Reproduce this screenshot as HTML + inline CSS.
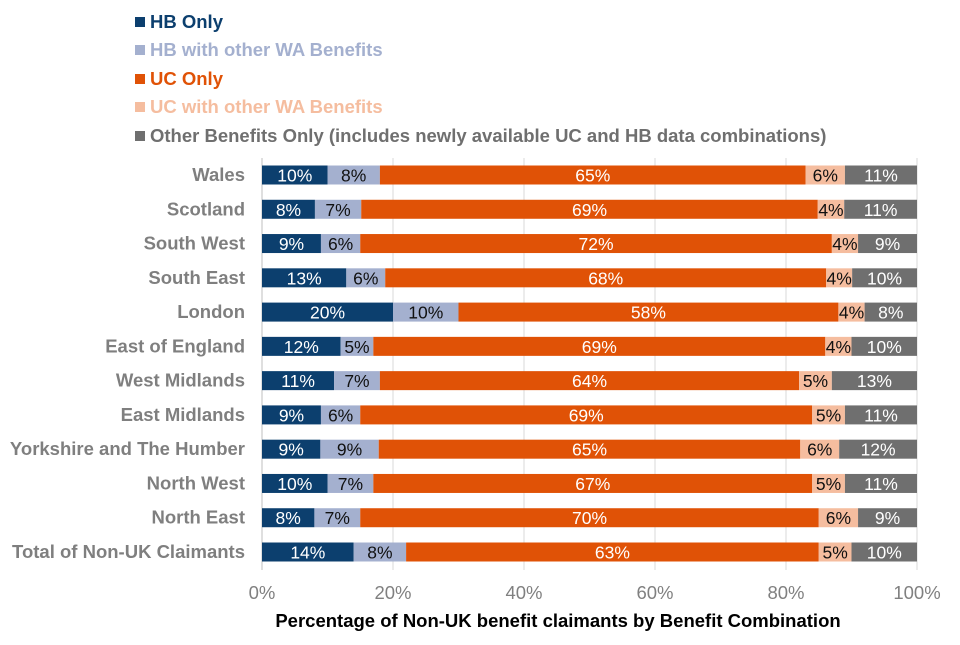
<!DOCTYPE html>
<html><head><meta charset="utf-8"><style>
body{margin:0;background:#fff;font-family:"Liberation Sans",Arial,sans-serif}
</style></head><body>
<svg id="chart" width="960" height="640" xmlns="http://www.w3.org/2000/svg"></svg>
<script>
const categories=["Wales","Scotland","South West","South East","London","East of England","West Midlands","East Midlands","Yorkshire and The Humber","North West","North East","Total of Non-UK Claimants"];
const seriesNames=["HB Only","HB with other WA Benefits","UC Only","UC with other WA Benefits","Other Benefits Only (includes newly available UC and HB data combinations)"];
const hbOnly=[10,8,9,13,20,12,11,9,9,10,8,14];
const hbOther=[8,7,6,6,10,5,7,6,9,7,7,8];
const ucOnly=[65,69,72,68,58,69,64,69,65,67,70,63];
const ucOther=[6,4,4,4,4,4,5,5,6,5,6,5];
const otherOnly=[11,11,9,10,8,10,13,11,12,11,9,10];
const tickLabels=["0%","20%","40%","60%","80%","100%"];
const tickValues=[0,20,40,60,80,100];

const NS="http://www.w3.org/2000/svg";
const svg=document.getElementById('chart');
const colors=["#0c3f6e","#a4b0cf","#e05206","#f5bd9f","#6f6f6f"];
const textColors=["#fff","#111","#fff","#111","#fff"];
const x0=262,x1=917,yTop=175,step=(552-175)/11,barH=19;
const xs=v=>x0+(x1-x0)*v/100;
const yc=i=>yTop+i*step;
function mk(tag,attrs,parent){const e=document.createElementNS(NS,tag);for(const k in attrs)e.setAttribute(k,attrs[k]);(parent||svg).appendChild(e);return e;}

tickValues.forEach((t,i)=>{
  const g=mk('line',{x1:xs(t),x2:xs(t),y1:158,y2:570,stroke:"#d9d9d9","stroke-width":1});
  
  
  const tl=mk('text',{x:xs(t),y:599,"text-anchor":"middle","font-size":18.5,fill:"#808080"});
  tl.textContent=tickLabels[i];
  
  
});
const axis=mk('line',{x1:x0,x2:x0,y1:158,y2:570,stroke:"#bfbfbf","stroke-width":1});



const series=[hbOnly,hbOther,ucOnly,ucOther,otherOnly];
categories.forEach((c,i)=>{
  const total=series.reduce((s,a)=>s+a[i],0);
  let cum=0;
  const lbl=mk('text',{x:245,y:yc(i)+6,"text-anchor":"end","font-size":18.5,"font-weight":"bold",fill:"#7f7f7f"});
  lbl.textContent=c;
  
  
  series.forEach((arr,s)=>{
    const v=arr[i]*100/total;
    const xa=xs(cum),xb=xs(cum+v);
    const r=mk('rect',{x:xa,y:yc(i)-barH/2,width:xb-xa,height:barH,fill:colors[s]});
    
    
    const t=mk('text',{x:(xa+xb)/2,y:yc(i)+6.5,"text-anchor":"middle","font-size":17.5,fill:textColors[s]});
    t.textContent=arr[i]+"%";
    
    
    cum+=v;
  });
});

const ly=[28,56,85,113,142];
seriesNames.forEach((n,s)=>{
  const sq=mk('rect',{x:135,y:ly[s]-11,width:10,height:10,fill:colors[s]});
  
  
  const t=mk('text',{x:150,y:ly[s],"font-size":18.5,"font-weight":"bold",fill:colors[s]});
  t.textContent=n;
  
  
});

const title=mk('text',{x:558,y:627,"text-anchor":"middle","font-size":18.5,"font-weight":"bold",fill:"#000"});
title.textContent="Percentage of Non-UK benefit claimants by Benefit Combination";


</script>
</body></html>
